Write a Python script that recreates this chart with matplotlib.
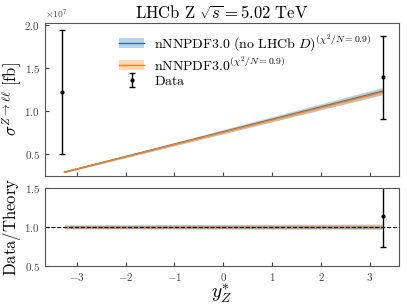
import numpy as np
import matplotlib.pyplot as plt
from matplotlib.patches import Patch
from matplotlib.lines import Line2D
from matplotlib.ticker import FuncFormatter

plt.rcParams['mathtext.fontset'] = 'cm'
plt.rcParams['font.family'] = 'DejaVu Serif'

# ==========================
# Data (cross sections in fb)
# ==========================
y_data = [-3.3, 3.27]
sigma_data = [1.22e7, 1.39e7]
sigma_err = [0.72e7, 0.48e7]

y_theory = [-3.25, 3.25]
# nNNPDF3.0 (no LHCb D)
th_blue = [0.29e7, 1.225e7]
th_blue_lo = [0.282e7, 1.185e7]
th_blue_hi = [0.298e7, 1.27e7]
# nNNPDF3.0
th_orange = [0.29e7, 1.215e7]
th_orange_lo = [0.284e7, 1.19e7]
th_orange_hi = [0.296e7, 1.255e7]

SCALE = 1e7

blue = '#1f77b4'
orange = '#ff7f0e'

fig = plt.figure(figsize=(4.07, 3.05), dpi=100)
ax = fig.add_axes([0.1106, 0.423, 0.870, 0.502])
rax = fig.add_axes([0.1106, 0.128, 0.870, 0.256])

yt = np.array(y_theory)
s = lambda v: np.array(v) / SCALE

# top panel
ax.fill_between(yt, s(th_blue_lo), s(th_blue_hi), color=blue, alpha=0.3, lw=0)
ax.plot(yt, s(th_blue), color=blue, lw=1.0)
ax.fill_between(yt, s(th_orange_lo), s(th_orange_hi), color=orange, alpha=0.3, lw=0)
ax.plot(yt, s(th_orange), color=orange, lw=1.0)
eb = ax.errorbar(y_data, s(sigma_data), yerr=s(sigma_err), fmt='o', color='k',
                 ms=2, capsize=2, elinewidth=1.0, capthick=1.0)

# ratio panel (bands normalised to their own central value)
rb_lo = np.array(th_blue_lo) / np.array(th_blue)
rb_hi = np.array(th_blue_hi) / np.array(th_blue)
ro_lo = np.array(th_orange_lo) / np.array(th_orange)
ro_hi = np.array(th_orange_hi) / np.array(th_orange)
rax.fill_between(yt, rb_lo, rb_hi, color=blue, alpha=0.3, lw=0)
rax.fill_between(yt, ro_lo, ro_hi, color=orange, alpha=0.3, lw=0)
rax.plot(yt, [1, 1], color=blue, lw=1.0)
rax.plot(yt, [1, 1], color=orange, lw=1.0)
rax.axhline(1.0, color='k', ls='--', lw=0.8)
ratio = np.array(sigma_data) / np.array(th_orange)
ratio_err = np.array(sigma_err) / np.array(th_orange)
rax.errorbar(y_data, ratio, yerr=ratio_err, fmt='o', color='k',
             ms=2, capsize=2, elinewidth=1.0, capthick=1.0)

# axes styling
fmt = FuncFormatter(lambda v, p: f"${v:.1f}$")
xfmt = FuncFormatter(lambda v, p: f"${v:g}$")
for a in (ax, rax):
    a.set_xlim(-3.65, 3.6)
    a.set_xticks([-3, -2, -1, 0, 1, 2, 3])
    a.tick_params(direction='in', labelsize=8, colors='#444444', labelcolor='#444444',
                  length=3)
    for sp in a.spines.values():
        sp.set_color('#555555')
ax.set_ylim(0.245, 2.02)
ax.set_yticks([0.5, 1.0, 1.5, 2.0])
ax.yaxis.set_major_formatter(fmt)
ax.set_xticklabels([])
ax.text(0.0, 1.01, r"$\times10^{7}$", transform=ax.transAxes, fontsize=7, color='#444444',
        va='bottom', ha='left')
rax.set_ylim(0.5, 1.5)
rax.set_yticks([0.5, 1.0, 1.5])
rax.yaxis.set_major_formatter(fmt)
rax.xaxis.set_major_formatter(xfmt)

ax.set_title(r"$\mathrm{LHCb\ Z}\ \sqrt{s}=5.02\ \mathrm{TeV}$", fontsize=12, pad=3)
ax.set_ylabel(r"$\sigma^{Z\to\ell\ell}\ \mathrm{[fb]}$", fontsize=12, labelpad=0)
rax.set_ylabel(r"$\mathrm{Data/Theory}$", fontsize=12, labelpad=1)
rax.set_xlabel(r"$y^{*}_{Z}$", fontsize=14, labelpad=0)

h_blue = (Patch(color=blue, alpha=0.3, lw=0), Line2D([], [], color=blue, lw=1.0))
h_orange = (Patch(color=orange, alpha=0.3, lw=0), Line2D([], [], color=orange, lw=1.0))
ax.legend([h_blue, h_orange, eb],
          [r"$\mathrm{nNNPDF3.0\ (no\ LHCb\ }D\mathrm{)}^{(\chi^2/N=0.9)}$",
           r"$\mathrm{nNNPDF3.0}^{(\chi^2/N=0.9)}$",
           r"$\mathrm{Data}$"],
          loc='upper left', bbox_to_anchor=(0.175, 1.02), frameon=False, fontsize=10,
          handlelength=1.8, handletextpad=0.7, labelspacing=0.05)

fig.savefig('out.png', dpi=100)
